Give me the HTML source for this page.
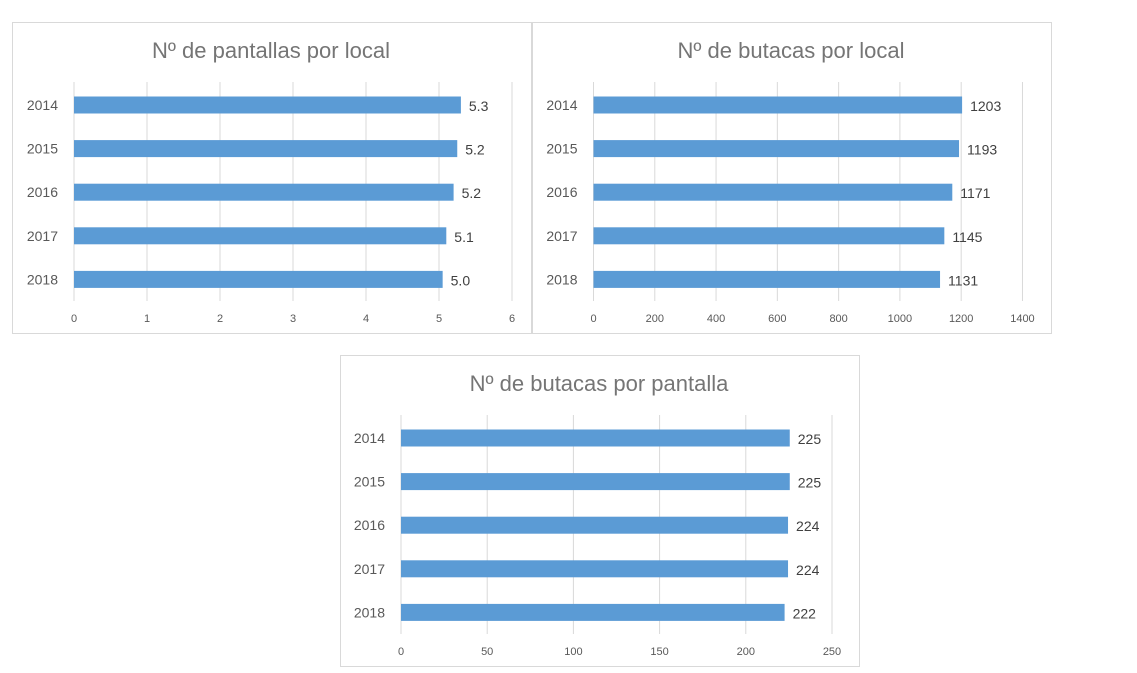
<!DOCTYPE html>
<html><head><meta charset="utf-8"><style>
body{margin:0;background:#fff;width:1137px;height:673px;overflow:hidden}
svg{position:absolute;left:0;top:0}
text{font-family:"Liberation Sans",sans-serif}
</style></head><body>
<svg id="s" width="1137" height="673" xmlns="http://www.w3.org/2000/svg"></svg>
<script>
const s=document.getElementById('s');let h='';
function chart(bx,by,title,x0,max,step,pxPerUnit,vals,labels,dec){
  h+=`<rect x="${bx+0.5}" y="${by+0.5}" width="519" height="311" fill="#fff" stroke="#d9d9d9"/>`;
  h+=`<text x="${bx+259}" y="${by+36}" font-size="22" fill="#757575" text-anchor="middle">${title}</text>`;
  const gTop=by+60,gBot=by+279;
  for(let v=0;v<=max+1e-9;v+=step){const x=x0+v*pxPerUnit;
    h+=`<line x1="${x}" y1="${gTop}" x2="${x}" y2="${gBot}" stroke="#d9d9d9"/>`;
    h+=`<text x="${x}" y="${by+300}" font-size="11" fill="#595959" text-anchor="middle">${v}</text>`;}
  const yrs=[2014,2015,2016,2017,2018];
  yrs.forEach((y,i)=>{const cy=by+83+i*43.6;const w=vals[i]*pxPerUnit;
    h+=`<rect x="${x0}" y="${cy-8.5}" width="${w}" height="17" fill="#5b9bd5"/>`;
    h+=`<text x="${x0-16}" y="${cy+5}" font-size="14" fill="#595959" text-anchor="end">${y}</text>`;
    h+=`<text x="${x0+w+8}" y="${cy+6}" font-size="14" fill="#404040">${labels[i]}</text>`;});
}
chart(12,22,"Nº de pantallas por local",74,6,1,73,[5.3,5.25,5.2,5.1,5.05],["5.3","5.2","5.2","5.1","5.0"]);
chart(532,22,"Nº de butacas por local",593.5,1400,200,0.3064,[1203,1193,1171,1145,1131],["1203","1193","1171","1145","1131"]);
chart(340,355,"Nº de butacas por pantalla",401,250,50,1.724,[225.5,225.5,224.5,224.5,222.5],["225","225","224","224","222"]);
s.innerHTML=h;
</script>
</body></html>
